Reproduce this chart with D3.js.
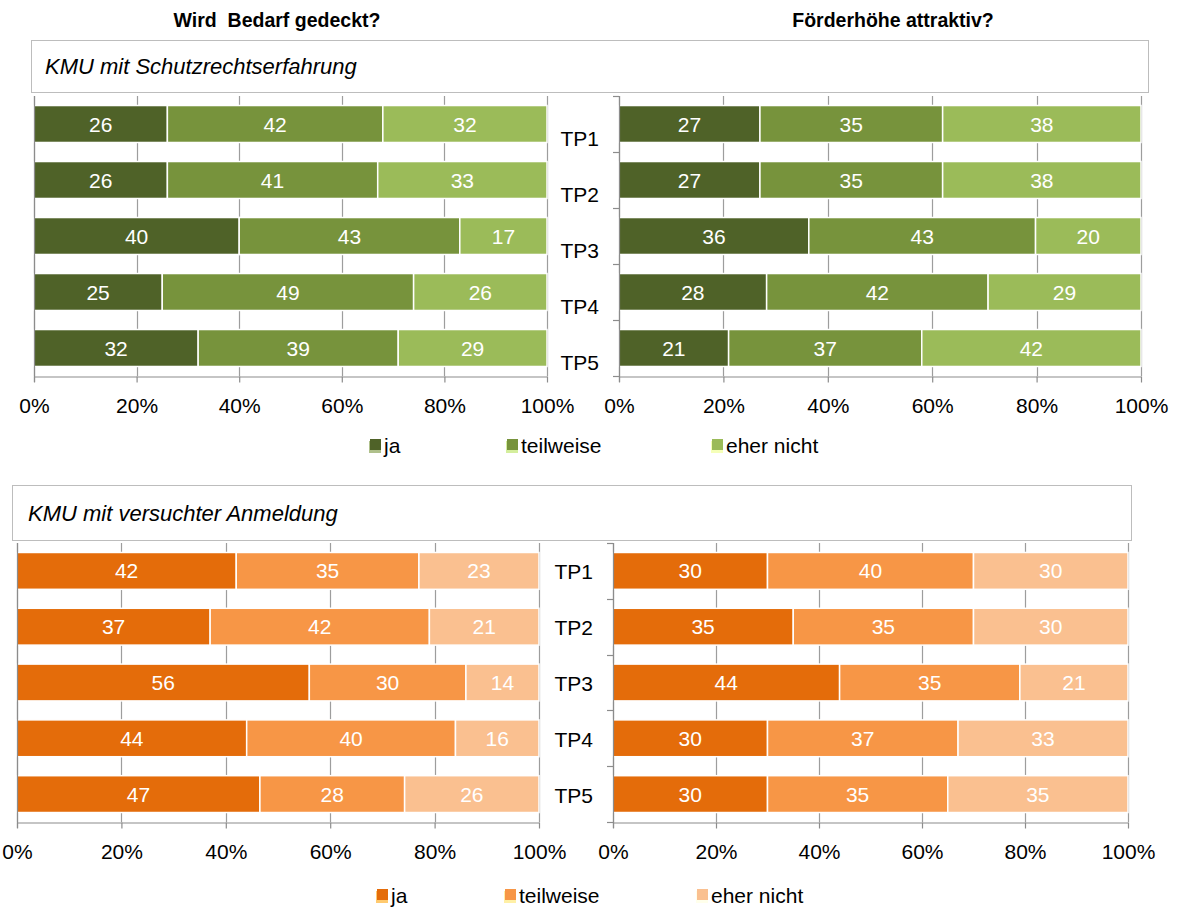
<!DOCTYPE html>
<html>
<head>
<meta charset="utf-8">
<script src="https://cdn.jsdelivr.net/npm/d3@7"></script>
<style>
  body { margin: 0; background: #fff; }
  svg text { font-family: "Liberation Sans", Arial, sans-serif; }
</style>
</head>
<body>
<div id="chart"></div>
<script>
var width = 1178,
    height = 908;

// data
var categories = ["TP1", "TP2", "TP3", "TP4", "TP5"];
var answers = ["ja", "teilweise", "eher nicht"];
var titles = ["Wird  Bedarf gedeckt?", "Förderhöhe attraktiv?"];
var groups = ["KMU mit Schutzrechtserfahrung", "KMU mit versuchter Anmeldung"];
var ticks = [0, 0.2, 0.4, 0.6, 0.8, 1];

// KMU mit Schutzrechtserfahrung - Bedarf gedeckt
var schutzBedarfJa        = [26, 26, 40, 25, 32];
var schutzBedarfTeilweise = [42, 41, 43, 49, 39];
var schutzBedarfEherNicht = [32, 33, 17, 26, 29];
// KMU mit Schutzrechtserfahrung - Förderhöhe attraktiv
var schutzFoerderJa        = [27, 27, 36, 28, 21];
var schutzFoerderTeilweise = [35, 35, 43, 42, 37];
var schutzFoerderEherNicht = [38, 38, 20, 29, 42];
// KMU mit versuchter Anmeldung - Bedarf gedeckt
var anmBedarfJa        = [42, 37, 56, 44, 47];
var anmBedarfTeilweise = [35, 42, 30, 40, 28];
var anmBedarfEherNicht = [23, 21, 14, 16, 26];
// KMU mit versuchter Anmeldung - Förderhöhe attraktiv
var anmFoerderJa        = [30, 35, 44, 30, 30];
var anmFoerderTeilweise = [40, 35, 35, 37, 35];
var anmFoerderEherNicht = [30, 30, 21, 33, 35];

var greens = ["#4f6228", "#77933c", "#9bbb59"];
var oranges = ["#e46c0a", "#f79646", "#fac090"];

function rows(ja, tw, en) {
    return categories.map(function(c, i) {
        return { cat: c, "ja": ja[i], "teilweise": tw[i], "eher nicht": en[i] };
    });
}

var svg = d3.select("#chart").append("svg")
    .attr("width", width)
    .attr("height", height);

// column titles
svg.selectAll("text.title")
    .data(titles)
    .enter().append("text")
    .attr("class", "title")
    .attr("x", function(d, i) { return i == 0 ? 277 : 893; })
    .attr("y", 27)
    .attr("text-anchor", "middle")
    .style("font-weight", "bold")
    .style("font-size", "19.5px")
    .style("white-space", "pre")
    .text(function(d) { return d; });

var blocks = [
    { group: groups[0], colors: greens, box: [31, 40, 1117, 52], textX: 45,
      top: 96, bottom: 376, labelShift: 14, legendY: 446,
      legendX: [370, 507, 712],
      charts: [ { x0: 34, x1: 547, data: rows(schutzBedarfJa, schutzBedarfTeilweise, schutzBedarfEherNicht), axis: false },
                { x0: 619, x1: 1141, data: rows(schutzFoerderJa, schutzFoerderTeilweise, schutzFoerderEherNicht), axis: true } ] },
    { group: groups[1], colors: oranges, box: [12, 485, 1119, 55], textX: 28,
      top: 543, bottom: 822, labelShift: 1, legendY: 896,
      legendX: [377, 505, 697],
      charts: [ { x0: 17, x1: 539, data: rows(anmBedarfJa, anmBedarfTeilweise, anmBedarfEherNicht), axis: false },
                { x0: 613, x1: 1128, data: rows(anmFoerderJa, anmFoerderTeilweise, anmFoerderEherNicht), axis: true } ] }
];

var stack = d3.stack().keys(answers).offset(d3.stackOffsetExpand);

blocks.forEach(function(b) {
    // group box
    svg.append("rect")
        .attr("x", b.box[0] + 0.5).attr("y", b.box[1] + 0.5)
        .attr("width", b.box[2]).attr("height", b.box[3])
        .attr("fill", "#fff")
        .attr("stroke", "#bdbdbd");
    svg.append("text")
        .attr("x", b.textX)
        .attr("y", b.box[1] + b.box[3] / 2 + 8)
        .style("font-style", "italic")
        .style("font-size", "22px")
        .text(b.group);

    var color = d3.scaleOrdinal().domain(answers).range(b.colors);

    b.charts.forEach(function(c) {
        var x = d3.scaleLinear().domain([0, 1]).range([c.x0, c.x1]);
        var y = d3.scaleBand().domain(categories).range([b.top, b.bottom])
            .paddingInner(0.34).paddingOuter(0.17);
        var g = svg.append("g");

        // vertical gridlines
        g.selectAll("line.grid")
            .data(ticks)
            .enter().append("line")
            .attr("x1", function(d) { return Math.round(x(d)) + 0.5; })
            .attr("x2", function(d) { return Math.round(x(d)) + 0.5; })
            .attr("y1", b.top)
            .attr("y2", b.bottom)
            .attr("stroke", "#9d9d9d")
            .attr("stroke-width", 1.2);

        var series = stack(c.data);
        var layer = g.selectAll("g.layer")
            .data(series)
            .enter().append("g")
            .attr("fill", function(d) { return color(d.key); });

        layer.selectAll("rect")
            .data(function(d) { return d; })
            .enter().append("rect")
            .attr("x", function(d) { return x(d[0]); })
            .attr("y", function(d) { return y(d.data.cat); })
            .attr("width", function(d) { return x(d[1]) - x(d[0]); })
            .attr("height", y.bandwidth())
            .attr("stroke", "#fff")
            .attr("stroke-width", 1.5);

        layer.each(function(s) {
            d3.select(this).selectAll("text")
                .data(s)
                .enter().append("text")
                .attr("x", function(d) { return (x(d[0]) + x(d[1])) / 2; })
                .attr("y", function(d) { return y(d.data.cat) + y.bandwidth() / 2 + 7.5; })
                .attr("text-anchor", "middle")
                .attr("fill", "#fff")
                .style("font-size", "21px")
                .text(function(d) { return d.data[s.key]; });
        });

        // x axis
        var xAxis = d3.axisBottom(x)
            .tickValues(ticks)
            .tickFormat(d3.format(".0%"))
            .tickSizeOuter(0)
            .tickSizeInner(6)
            .tickPadding(16);
        var ax = g.append("g")
            .attr("transform", "translate(0," + (b.bottom + 0.5) + ")")
            .call(xAxis);
        ax.selectAll("path, line").attr("stroke", "#8c8c8c").attr("stroke-width", 1.2);
        ax.selectAll("text")
            .attr("fill", "#000")
            .style("font-size", "21px")
            .style("font-family", "Liberation Sans, Arial, sans-serif");

        // vertical axis line
        g.append("line")
            .attr("x1", Math.round(c.x0) + 0.5).attr("x2", Math.round(c.x0) + 0.5)
            .attr("y1", b.top).attr("y2", b.bottom + 6)
            .attr("stroke", "#8c8c8c")
            .attr("stroke-width", 1.2);

        if (c.axis) {
            var bounds = d3.range(categories.length + 1).map(function(i) { return b.top + i * y.step(); });
            g.selectAll("line.cattick")
                .data(bounds)
                .enter().append("line")
                .attr("x1", c.x0 - 6).attr("x2", c.x0)
                .attr("y1", function(d) { return Math.round(d) + 0.5; })
                .attr("y2", function(d) { return Math.round(d) + 0.5; })
                .attr("stroke", "#8c8c8c")
                .attr("stroke-width", 1.2);
            g.selectAll("text.cat")
                .data(categories)
                .enter().append("text")
                .attr("x", c.x0 - 20)
                .attr("y", function(d) { return y(d) + y.bandwidth() / 2 + b.labelShift + 7.5; })
                .attr("text-anchor", "end")
                .style("font-size", "21px")
                .text(function(d) { return d; });
        }
    });

    // legend
    var leg = svg.selectAll(null)
        .data(answers)
        .enter().append("g")
        .attr("transform", function(d, i) { return "translate(" + b.legendX[i] + "," + b.legendY + ")"; });
    leg.append("rect")
        .attr("x", -1).attr("y", -5)
        .attr("width", 12).attr("height", 12)
        .attr("fill", function(d) { return d3.color(color(d)).brighter(1.2); })
        .attr("opacity", 0.6);
    leg.append("rect")
        .attr("x", 0).attr("y", -7)
        .attr("width", 11).attr("height", 11)
        .attr("fill", function(d) { return color(d); });
    leg.append("text")
        .attr("x", 14)
        .attr("y", 7)
        .style("font-size", "21px")
        .text(function(d) { return d; });
});
</script>
</body>
</html>
